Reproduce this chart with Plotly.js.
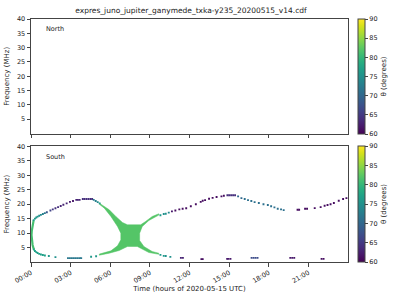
<!DOCTYPE html>
<html>
<head>
<meta charset="utf-8">
<script src="https://cdn.plot.ly/plotly-3.0.1.min.js"></script>
<style>html,body{margin:0;padding:0;background:#fff;}#chart{width:400px;height:300px;}</style>
</head>
<body>
<div id="chart"></div>
<script>
// ---- data (time in hours of 2020-05-15, frequency in MHz, theta in degrees) ----
const chartTitle = 'expres_juno_jupiter_ganymede_txka-y235_20200515_v14.cdf';
const tickHours = [0, 3, 6, 9, 12, 15, 18, 21];
const tickLabels = ['00:00', '03:00', '06:00', '09:00', '12:00', '15:00', '18:00', '21:00'];
const freqTicks = [5, 10, 15, 20, 25, 30, 35, 40];
const thetaTicks = [60, 65, 70, 75, 80, 85, 90];

// upper branch of the South emission
const upperT = [0.2, 0.3, 0.4, 0.5, 0.62, 0.75, 0.9, 1.05,
  1.2, 1.47, 1.65, 1.85, 2.05, 2.25, 2.45, 2.7, 2.95, 3.18,
  3.43, 3.55, 3.68,
  3.92, 4.05, 4.2, 4.35, 4.5, 4.63,
  4.75, 4.9, 5.05, 5.2,
  9.8, 10.05, 10.2, 10.43,
  10.67, 10.93, 11.23, 11.48, 11.75, 12.1, 12.48, 12.85, 13.0, 13.18, 13.48, 13.75, 14.05, 14.42, 14.6,
  14.87, 15.0, 15.15, 15.3, 15.45,
  15.68, 15.93, 16.18, 16.43, 16.68, 16.93, 17.25, 17.6, 17.93, 18.18, 18.43, 18.68, 18.93, 19.13,
  20.18, 20.3, 20.75, 20.9, 21.48, 21.93, 22.23, 22.45, 22.68, 22.93, 23.3, 23.63, 23.88];
const upperF = [14.5, 15.0, 15.4, 15.7, 16.0, 16.3, 16.6, 16.9,
  17.2, 17.8, 18.2, 18.6, 19.0, 19.4, 19.8, 20.3, 20.8, 21.1,
  21.5, 21.5, 21.5,
  21.8, 21.8, 21.8, 21.8, 21.8, 21.8,
  21.5, 21.1, 20.7, 20.3,
  16.2, 16.6, 16.7, 17.1,
  17.5, 17.8, 18.2, 18.4, 18.6, 19.3, 20.0, 20.8, 21.2, 21.4, 21.9, 22.2, 22.5, 22.7, 22.9,
  23.1, 23.1, 23.1, 23.1, 23.1,
  22.7, 22.1, 21.8, 21.4, 21.1, 20.7, 20.4, 20.0, 19.7, 19.3, 18.9, 18.4, 18.2, 17.95,
  18.06, 18.06, 18.4, 18.4, 18.64, 18.98, 19.45, 19.7, 20.0, 20.4, 21.2, 21.8, 22.1];
const upperTheta = [77, 76, 76, 75, 75, 74, 73, 72,
  68, 66, 65, 64, 64, 63, 63, 63, 62, 62,
  63, 63, 63,
  64, 64, 64, 64, 64, 64,
  72, 73, 74, 76,
  76, 75, 75, 74,
  62, 61, 61, 61, 61, 61, 61, 61, 61, 61, 61, 61, 61, 61, 61,
  64, 64, 64, 64, 64,
  70, 70, 71, 71, 71, 71, 71, 71, 71, 71, 71, 71, 71, 71,
  61, 61, 61, 61, 61, 61, 61, 61, 61, 61, 61, 61, 61];

// lower branch of the South emission
const lowerT = [0.22, 0.3, 0.4, 0.5, 0.62, 0.75, 0.9, 1.05, 1.35, 1.85,
  2.8, 2.95, 3.1, 3.25, 3.4, 3.55, 3.7, 3.8,
  4.55, 4.93,
  9.8, 10.05, 10.2, 10.55,
  11.35, 11.5, 12.9, 13.0, 14.85, 14.95, 15.1,
  16.7, 16.85, 17.0, 17.15, 19.63, 19.78, 19.93, 22.0, 22.15];
const lowerF = [4.3, 3.8, 3.4, 3.1, 2.8, 2.6, 2.4, 2.25, 2.05, 1.7,
  1.35, 1.35, 1.35, 1.35, 1.35, 1.35, 1.35, 1.35,
  1.8, 2.0,
  2.47, 2.12, 2.05, 1.78,
  1.43, 1.43, 0.98, 0.98, 1.08, 1.08, 1.08,
  1.43, 1.43, 1.43, 1.43, 1.43, 1.43, 1.43, 1.08, 1.08];
const lowerTheta = [78, 77, 77, 77, 77, 77, 77, 77, 76, 75,
  72, 72, 72, 72, 72, 72, 72, 72,
  76, 76,
  76, 76, 75, 75,
  63, 63, 61, 61, 62, 62, 62,
  67, 67, 67, 67, 62, 62, 62, 61, 61];

// left edge of the emission loop (near 00:00)
const edgeT = [0.2, 0.12, 0.06, 0.04, 0.06, 0.12, 0.22];
const edgeF = [14.4, 12.6, 10.8, 9.3, 7.6, 5.9, 4.3];
const edgeTheta = 81;

// outline of the X-shaped filled region (05:10 - 09:40)
const crossT = [5.175, 5.925, 6.425, 6.925, 7.3, 8.3, 8.675, 9.175, 9.675,
  9.675, 8.925, 8.425, 8.225, 8.225, 8.55, 9.175, 9.675,
  9.675, 8.925, 8.05, 7.3, 6.675, 5.925, 5.175,
  5.175, 6.05, 6.55, 6.8, 6.8, 6.55, 6.05, 5.55, 5.175];
const crossF = [20.37, 18.06, 15.75, 13.67, 12.87, 12.87, 14.02, 15.75, 16.68,
  16.22, 14.37, 12.29, 9.98, 7.44, 5.36, 3.63, 3.05,
  2.67, 3.28, 5.36, 5.36, 3.97, 3.05, 2.36,
  2.74, 3.86, 5.59, 7.67, 9.98, 12.29, 15.75, 18.64, 19.97];
const crossTheta = 82;

// ---- helpers ----
const thetaMin = 60, thetaMax = 90;
const viridisStops = [[0,'#440154'],[0.0627,'#48186a'],[0.1255,'#472d7b'],[0.1882,'#424086'],[0.2510,'#3b528b'],[0.3137,'#33638d'],[0.3765,'#2c728e'],[0.4392,'#26828e'],[0.5020,'#21918c'],[0.5647,'#1fa088'],[0.6275,'#28ae80'],[0.6902,'#3fbc73'],[0.7529,'#5ec962'],[0.8157,'#84d44b'],[0.8784,'#addc30'],[0.9412,'#d8e219'],[1,'#fde725']];
function hex2rgb(h){return [parseInt(h.substr(1,2),16),parseInt(h.substr(3,2),16),parseInt(h.substr(5,2),16)];}
function viridis(theta){
  const v = Math.max(0, Math.min(1, (theta - thetaMin)/(thetaMax - thetaMin)));
  for (let i = 1; i < viridisStops.length; i++) {
    if (v <= viridisStops[i][0]) {
      const a = viridisStops[i-1], b = viridisStops[i];
      const k = (v - a[0])/(b[0] - a[0]);
      const ca = hex2rgb(a[1]), cb = hex2rgb(b[1]);
      return 'rgb(' + ca.map((c, j) => Math.round(c + (cb[j]-c)*k)).join(',') + ')';
    }
  }
  return viridisStops[viridisStops.length-1][1];
}

const FONT = 'DejaVu Sans, sans-serif';
const TXT = '#222';
const LINE = '#444';

function cbar(y, yanchor, len) {
  return {
    x: 1.03, xanchor: 'left', xpad: 0, y: y, yanchor: yanchor, ypad: 0,
    len: len, lenmode: 'fraction', thickness: 7,
    outlinewidth: 1, outlinecolor: LINE,
    tickvals: thetaTicks, ticks: 'outside', ticklen: 3, tickcolor: LINE,
    tickfont: {family: FONT, size: 6.5, color: TXT},
    title: {text: 'θ (degrees)', side: 'right', font: {family: FONT, size: 7, color: TXT}}
  };
}

const traces = [
  { // X-shaped region
    type: 'scatter', mode: 'lines', x: crossT, y: crossF, xaxis: 'x', yaxis: 'y',
    fill: 'toself', fillcolor: viridis(crossTheta),
    line: {color: viridis(crossTheta), width: 0.5}, hoverinfo: 'skip', showlegend: false
  },
  { // left edge of the loop
    type: 'scatter', mode: 'lines', x: edgeT, y: edgeF, xaxis: 'x', yaxis: 'y',
    line: {color: viridis(edgeTheta), width: 2.2}, hoverinfo: 'skip', showlegend: false
  },
  { // upper branch
    type: 'scatter', mode: 'markers', x: upperT, y: upperF, xaxis: 'x', yaxis: 'y',
    marker: {symbol: 'square', size: 1.9, line: {width: 0}, color: upperTheta,
      colorscale: 'Viridis', cmin: thetaMin, cmax: thetaMax, showscale: true,
      colorbar: cbar(0, 'bottom', 0.4757)},
    showlegend: false
  },
  { // lower branch
    type: 'scatter', mode: 'markers', x: lowerT, y: lowerF, xaxis: 'x', yaxis: 'y',
    marker: {symbol: 'square', size: 1.9, line: {width: 0}, color: lowerTheta,
      colorscale: 'Viridis', cmin: thetaMin, cmax: thetaMax, showscale: false},
    showlegend: false
  },
  { // North panel: no emission, only its colour bar
    type: 'scatter', mode: 'markers', x: [null], y: [null], xaxis: 'x2', yaxis: 'y2',
    marker: {color: [thetaMin], colorscale: 'Viridis', cmin: thetaMin, cmax: thetaMax, showscale: true,
      colorbar: cbar(1, 'top', 0.4712)},
    showlegend: false, hoverinfo: 'skip'
  }
];

const axisCommon = {
  showline: true, mirror: true, linecolor: LINE, linewidth: 1,
  showgrid: false, zeroline: false, ticks: 'outside', ticklen: 3.5, tickcolor: LINE,
  tickfont: {family: FONT, size: 6.5, color: TXT}
};

const layout = {
  width: 400, height: 300,
  margin: {l: 31, r: 49, t: 19, b: 38},
  paper_bgcolor: '#fff', plot_bgcolor: '#fff',
  font: {family: FONT, color: TXT},
  title: {text: chartTitle, font: {family: FONT, size: 7.5, color: TXT},
    x: 0.4775, xanchor: 'center', xref: 'container', y: 0.967, yanchor: 'middle', yref: 'container'},
  xaxis: Object.assign({}, axisCommon, {
    domain: [0, 1], anchor: 'y', range: [0, 24], tickvals: tickHours, ticktext: tickLabels, tickangle: -30,
    title: {text: 'Time (hours of 2020-05-15 UTC)', font: {family: FONT, size: 7, color: TXT}, standoff: 1}
  }),
  yaxis: Object.assign({}, axisCommon, {
    domain: [0, 0.4757], anchor: 'x', range: [0, 40], tickvals: freqTicks,
    title: {text: 'Frequency (MHz)', font: {family: FONT, size: 7, color: TXT}, standoff: 6}
  }),
  xaxis2: Object.assign({}, axisCommon, {
    domain: [0, 1], anchor: 'y2', matches: 'x', range: [0, 24], tickvals: tickHours, showticklabels: false
  }),
  yaxis2: Object.assign({}, axisCommon, {
    domain: [0.5288, 1], anchor: 'x2', range: [0, 40], tickvals: freqTicks,
    title: {text: 'Frequency (MHz)', font: {family: FONT, size: 7, color: TXT}, standoff: 6}
  }),
  annotations: [
    {text: 'North', xref: 'x2 domain', yref: 'y2 domain', x: 0.04, y: 0.91, xanchor: 'left', yanchor: 'middle',
      showarrow: false, font: {family: FONT, size: 6.5, color: TXT}},
    {text: 'South', xref: 'x domain', yref: 'y domain', x: 0.04, y: 0.91, xanchor: 'left', yanchor: 'middle',
      showarrow: false, font: {family: FONT, size: 6.5, color: TXT}}
  ]
};

Plotly.newPlot('chart', traces, layout, {staticPlot: true, displayModeBar: false});
</script>
</body>
</html>
